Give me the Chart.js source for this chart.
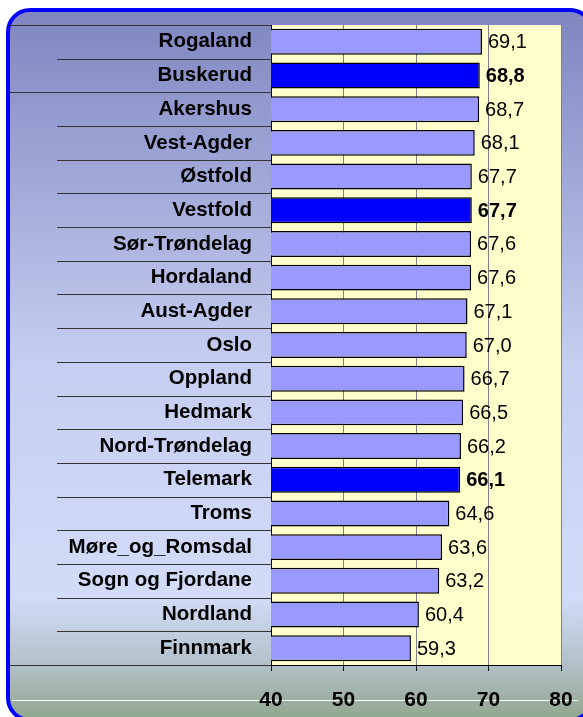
<!DOCTYPE html>
<html lang="no">
<head>
<meta charset="UTF-8">
<title>Fylker</title>
<script src="https://cdn.jsdelivr.net/npm/chart.js"></script>
<style>
  body { margin: 0; background: #fff; }
</style>
</head>
<body>
<canvas id="chart" width="583" height="717"></canvas>
<script>
const fylker = ['Rogaland', 'Buskerud', 'Akershus', 'Vest-Agder', 'Østfold', 'Vestfold',
    'Sør-Trøndelag', 'Hordaland', 'Aust-Agder', 'Oslo', 'Oppland', 'Hedmark',
    'Nord-Trøndelag', 'Telemark', 'Troms', 'Møre_og_Romsdal', 'Sogn og Fjordane',
    'Nordland', 'Finnmark'];
const verdier = [69.1, 68.8, 68.7, 68.1, 67.7, 67.7, 67.6, 67.6, 67.1, 67.0, 66.7, 66.5,
    66.2, 66.1, 64.6, 63.6, 63.2, 60.4, 59.3];
const uthevet = ['Buskerud', 'Vestfold', 'Telemark'];
const xMin = 40, xMax = 80, xStep = 10;

const font = 'Arial, "Liberation Sans", sans-serif';

// rounded frame path
function ramme(ctx) {
    const x = 8, y = 10, w = 584, h = 710, r = 22;
    ctx.beginPath();
    ctx.moveTo(x + r, y);
    ctx.lineTo(x + w - r, y);
    ctx.arcTo(x + w, y, x + w, y + r, r);
    ctx.lineTo(x + w, y + h - r);
    ctx.arcTo(x + w, y + h, x + w - r, y + h, r);
    ctx.lineTo(x + r, y + h);
    ctx.arcTo(x, y + h, x, y + h - r, r);
    ctx.lineTo(x, y + r);
    ctx.arcTo(x, y, x + r, y, r);
    ctx.closePath();
}

const bakgrunn = {
    id: 'bakgrunn',
    beforeDraw(chart) {
        const ctx = chart.ctx, a = chart.chartArea;
        ctx.save();
        ctx.fillStyle = '#fff';
        ctx.fillRect(0, 0, chart.width, chart.height);
        ramme(ctx);
        const g = ctx.createLinearGradient(0, 10, 0, 717);
        g.addColorStop(0, '#7f86c0');
        g.addColorStop(0.5, '#c6cef1');
        g.addColorStop(0.83, '#d2dcf8');
        g.addColorStop(0.92, '#b4c2cc');
        g.addColorStop(1, '#93a890');
        ctx.fillStyle = g;
        ctx.fill();
        // white streak under the axis
        ctx.strokeStyle = '#fff';
        ctx.lineWidth = 1;
        ctx.beginPath();
        ctx.moveTo(12, 700.5);
        ctx.lineTo(578, 700.5);
        ctx.stroke();
        ctx.fillStyle = '#ffffcc';
        ctx.fillRect(a.left, a.top, a.right - a.left, a.bottom - a.top);
        ctx.restore();
    },
    afterDraw(chart) {
        const ctx = chart.ctx;
        ctx.save();
        ramme(ctx);
        ctx.strokeStyle = '#0000ff';
        ctx.lineWidth = 4;
        ctx.stroke();
        ctx.restore();
    }
};

// lines between the category labels
const skillelinjer = {
    id: 'skillelinjer',
    afterDraw(chart) {
        const ctx = chart.ctx, y = chart.scales.y, a = chart.chartArea;
        ctx.save();
        ctx.strokeStyle = '#333';
        ctx.lineWidth = 1;
        for (let i = 0; i <= fylker.length; i++) {
            const py = Math.round(y.getPixelForValue(i - 0.5)) + 0.5;
            const x0 = (i === 0 || i === 2 || i === fylker.length) ? 10 : 57;
            ctx.beginPath();
            ctx.moveTo(x0, py);
            ctx.lineTo(a.left, py);
            ctx.stroke();
        }
        ctx.restore();
    }
};

const verdietiketter = {
    id: 'verdietiketter',
    afterDatasetsDraw(chart) {
        const ctx = chart.ctx;
        const meta = chart.getDatasetMeta(0);
        ctx.save();
        ctx.fillStyle = '#000';
        ctx.textAlign = 'left';
        ctx.textBaseline = 'middle';
        meta.data.forEach((bar, i) => {
            const fet = uthevet.includes(fylker[i]);
            ctx.font = (fet ? 'bold ' : '') + '20px ' + font;
            ctx.fillText(verdier[i].toFixed(1).replace('.', ','), bar.x + 6, bar.y + 1);
        });
        ctx.restore();
    }
};

new Chart(document.getElementById('chart'), {
    type: 'bar',
    data: {
        labels: fylker,
        datasets: [{
            data: verdier,
            backgroundColor: fylker.map(f => uthevet.includes(f) ? '#0000ff' : '#9999ff'),
            borderColor: '#000',
            borderWidth: 1.5,
            borderSkipped: false,
            barPercentage: 0.77,
            categoryPercentage: 1
        }]
    },
    options: {
        indexAxis: 'y',
        responsive: false,
        animation: false,
        layout: { padding: { top: 25, right: 22, left: 0, bottom: 0 } },
        plugins: {
            legend: { display: false },
            tooltip: { enabled: false }
        },
        scales: {
            x: {
                min: xMin,
                max: xMax,
                afterFit(scale) {
                    scale.height = 52;
                    scale.paddingLeft = 0;
                    scale.paddingRight = 0;
                },
                ticks: {
                    stepSize: xStep,
                    color: '#000',
                    padding: 17,
                    font: { family: font, size: 21, weight: 'bold' }
                },
                grid: { color: '#808080', tickColor: '#000', tickLength: 6, lineWidth: 1 },
                border: { color: '#000', width: 1 }
            },
            y: {
                afterFit(scale) {
                    scale.width = 271;
                    scale.paddingTop = 0;
                    scale.paddingBottom = 0;
                },
                ticks: {
                    color: '#000',
                    padding: 19,
                    font: { family: font, size: 20.5, weight: 'bold' }
                },
                grid: { display: false, drawTicks: false },
                border: { color: '#000', width: 1 }
            }
        }
    },
    plugins: [bakgrunn, skillelinjer, verdietiketter]
});
</script>
</body>
</html>
